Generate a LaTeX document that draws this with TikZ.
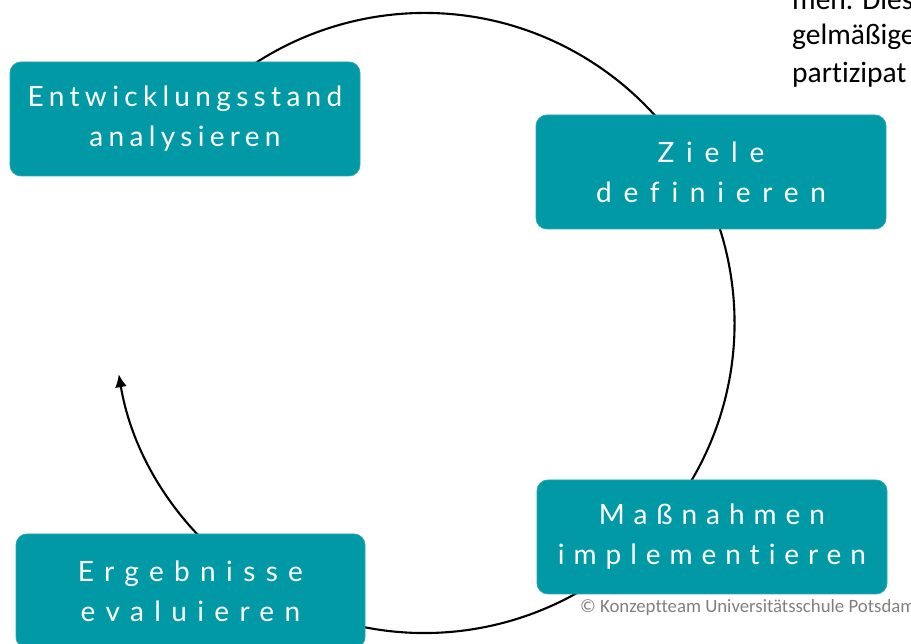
\documentclass[tikz,border=0pt]{standalone}
\usepackage{fontspec}
\setmainfont[RawFeature={-liga,-clig,-dlig,-calt}]{Lato}
\newfontfamily\notefont[RawFeature={-liga,-clig,-dlig,-calt}]{Carlito}
\usetikzlibrary{arrows.meta}
\definecolor{teal}{HTML}{0099A5}
\definecolor{notegray}{HTML}{7F7F7F}
\tikzset{
  x=1pt, y=1pt,
  stepbox/.style={fill=teal, draw=teal!85!white, line width=0.8pt, rounded corners=11pt,
    text=white, align=center, inner sep=0pt,
    minimum width=350pt, minimum height=114pt,
    font=\fontsize{28}{40}\selectfont},
  cycle/.style={line width=2.1pt, -{Latex[length=13pt,width=12pt]}},
  note/.style={anchor=base west, inner sep=0pt, font=\notefont\fontsize{29.5}{34}\selectfont},
}
\begin{document}
\begin{tikzpicture}
\useasboundingbox (0,0) rectangle (911,644);
\clip (0,0) rectangle (911,644);
% cycle arc, boxes sit on top of it
\coordinate (ctr) at (424.5,321);
\draw[cycle] (ctr) ++(150:310) arc[start angle=150, end angle=-170.5, radius=310];
% steps
\node[stepbox] (analyse) at (185,525)
  {\addfontfeatures{LetterSpace=19}Entwicklungsstand\\\addfontfeatures{LetterSpace=19}analysieren};
\node[stepbox] (ziele) at (711,472)
  {\addfontfeatures{LetterSpace=42}Ziele\\\addfontfeatures{LetterSpace=42}definieren};
\node[stepbox] (massn) at (712,107)
  {\addfontfeatures{LetterSpace=32}Maßnahmen\\\addfontfeatures{LetterSpace=32}implementieren};
\node[stepbox, minimum width=349pt] (eval) at (190.5,53)
  {\addfontfeatures{LetterSpace=37}Ergebnisse\\\addfontfeatures{LetterSpace=37}evaluieren};
% running text at the upper right
\node[note] (l1) at (792,634) {men. Dies};
\node[note] (l2) at (792,599) {gelmäßige};
\node[note] (l3) at (792,561) {partizipat};
% copyright line
\node[note, text=notegray, font=\notefont\fontsize{18.8}{22}\selectfont] (copy) at (580,31)
  {© Konzeptteam Universitätsschule Potsdam};
\end{tikzpicture}
\end{document}
